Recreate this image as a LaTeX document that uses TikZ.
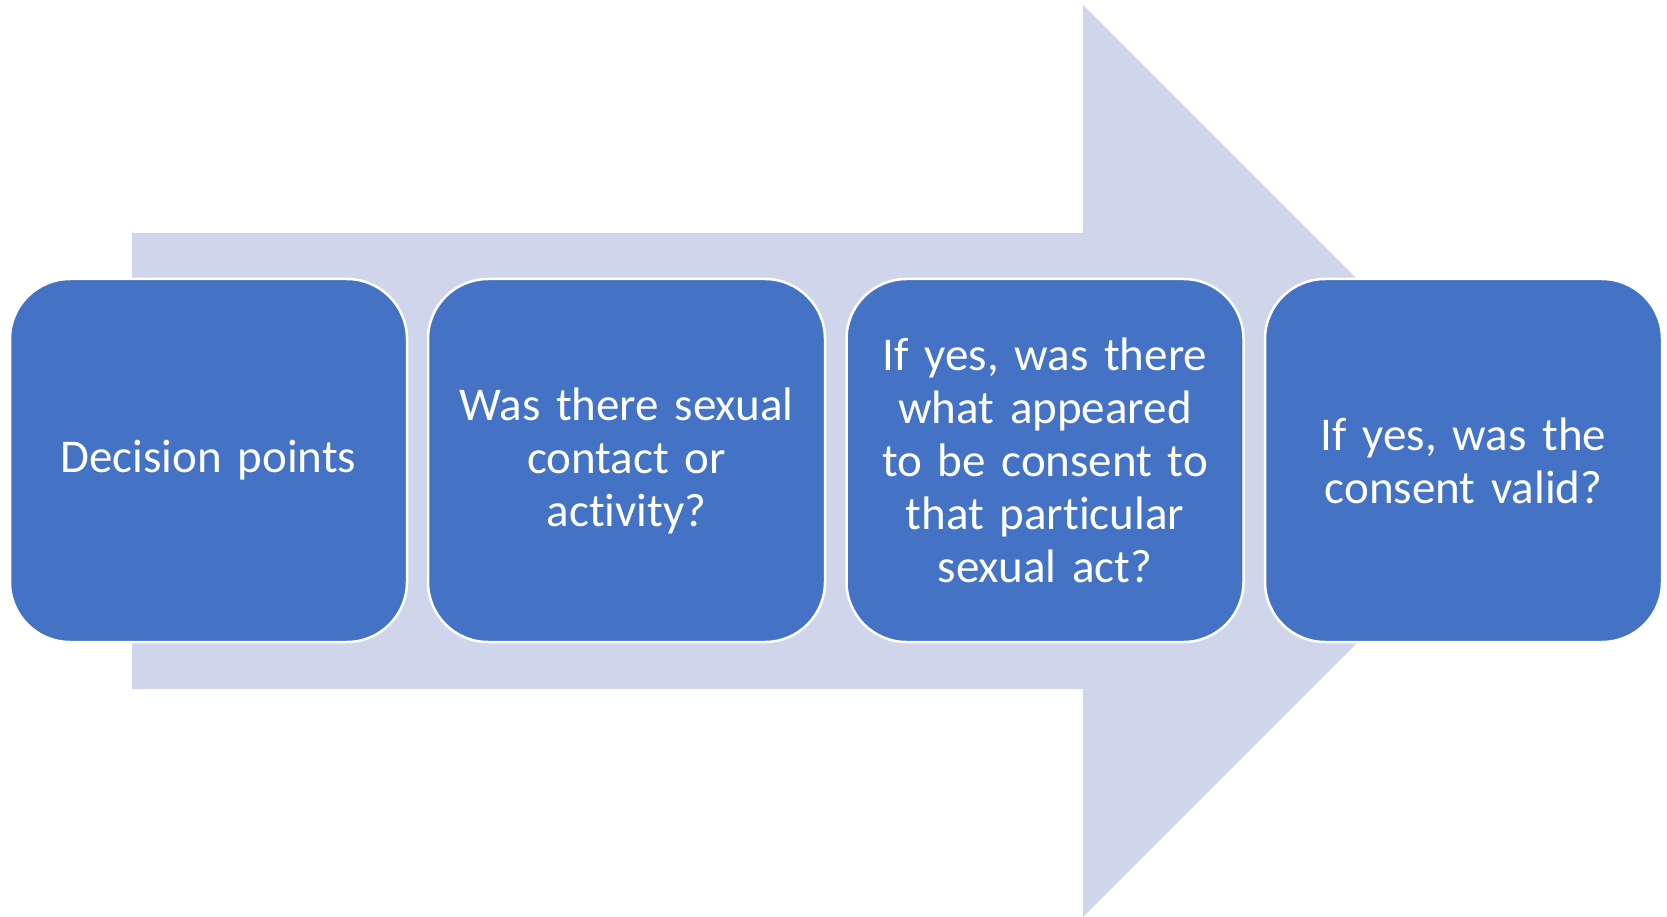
\documentclass[tikz,border=0pt]{standalone}
\usepackage{fontspec}
\setmainfont{Carlito}[Ligatures=NoCommon]
\definecolor{boxblue}{HTML}{4472C4}
\definecolor{arrowblue}{HTML}{CFD5EA}
\begin{document}
\begin{tikzpicture}[x=1pt,y=-1pt,
  stepbox/.style={draw=white, line width=2.5pt, fill=boxblue, rounded corners=60pt,
    minimum width=397pt, minimum height=363pt, text width=380pt, align=center,
    inner sep=0pt, text=white, font=\fontsize{47}{53}\selectfont}]
\useasboundingbox (0,0) rectangle (1667,917);
\fill[arrowblue] (132,233) coordinate (a1) -- (1083,233) -- (1083,5) -- (1539,461) -- (1083,917) -- (1083,689) -- (132,689) -- cycle;
\node[stepbox] (b1) at (208.5,460.5) {Decision points};
\node[stepbox] (b2) at (626.5,460.5) {Was there sexual\\contact or\\activity?};
\node[stepbox] (b3) at (1045,460.5) {If yes, was there\\what appeared\\to be consent to\\that particular\\sexual act?};
\node[stepbox] (b4) at (1463.5,460.5) {If yes, was the\\consent valid?};
\end{tikzpicture}
\end{document}
